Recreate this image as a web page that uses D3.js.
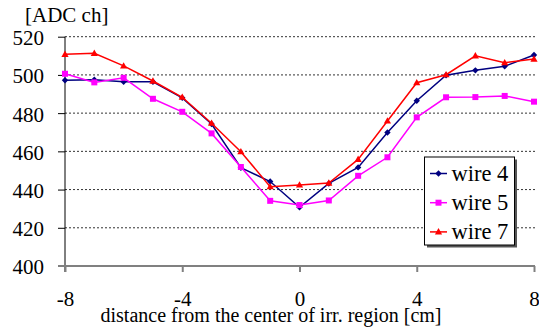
<!DOCTYPE html>
<html>
<head>
<meta charset="utf-8">
<script src="https://cdn.jsdelivr.net/npm/d3@7"></script>
<style>
  body { margin: 0; background: #fff; }
</style>
</head>
<body>
<svg id="svg" width="539" height="331"></svg>
<script>
// position along the irradiated region, cm
var positions = [-8, -7, -6, -5, -4, -3, -2, -1, 0, 1, 2, 3, 4, 5, 6, 7, 8];
// ADC values per wire
var wire4 = [497.2, 497.5, 496.4, 496.4, 488.0, 474.3, 451.4, 444.2, 430.7, 443.2, 451.6, 469.9, 486.5, 499.8, 502.4, 504.5, 510.4];
var wire5 = [500.6, 496.1, 498.5, 487.5, 480.7, 469.4, 451.8, 434.1, 431.9, 434.3, 447.2, 456.9, 477.8, 488.3, 488.4, 489.0, 486.0];
var wire7 = [510.8, 511.3, 504.7, 496.8, 488.3, 474.7, 459.8, 441.5, 442.4, 443.4, 455.8, 475.9, 495.9, 500.1, 510.0, 506.4, 508.3];
var yTicks = [400, 420, 440, 460, 480, 500, 520];
var xTicks = [-8, -4, 0, 4, 8];

var series = [
  {name: "wire 4", values: wire4, color: "#000080", marker: "diamond"},
  {name: "wire 5", values: wire5, color: "#ff00ff", marker: "square"},
  {name: "wire 7", values: wire7, color: "#ff0000", marker: "triangle"}
];

var serif = "'Liberation Serif', 'Times New Roman', serif";
var svg = d3.select("#svg");
var x = d3.scaleLinear().domain([-8, 8]).range([65, 534]);
var y = d3.scaleLinear().domain([400, 520]).range([266, 36.7]);

// grid lines
svg.append("g").selectAll("line").data(yTicks.filter(function(d) { return d > 400; })).enter()
  .append("line")
  .attr("x1", 65).attr("x2", 537)
  .attr("y1", function(d) { return y(d); }).attr("y2", function(d) { return y(d); })
  .attr("stroke", "#333").attr("stroke-width", 1).attr("stroke-dasharray", "2,2");

// y axis
var yAxis = svg.append("g").attr("transform", "translate(65,0)")
  .call(d3.axisLeft(y).tickValues(yTicks).tickSize(7).tickPadding(14).tickFormat(function(d) { return String(d); }));
yAxis.attr("font-family", null).attr("font-size", null);
yAxis.select(".domain").attr("stroke", "#000").attr("d", "M0," + y(520) + "V" + (y(400) + 6));
yAxis.selectAll(".tick line").attr("stroke", "#000");
yAxis.selectAll("text").style("font-family", serif).style("font-size", "21px").attr("dy", "0.38em");

// x axis
var xAxis = svg.append("g").attr("transform", "translate(0," + y(400) + ")")
  .call(d3.axisBottom(x).tickValues(xTicks).tickSize(6).tickPadding(19).tickFormat(function(d) { return String(d); }));
xAxis.attr("font-family", null).attr("font-size", null);
xAxis.select(".domain").attr("stroke", "#808080").attr("stroke-width", 2).attr("d", "M58,0H535");
xAxis.selectAll(".tick line").attr("stroke", "#808080").attr("stroke-width", 2);
xAxis.selectAll("text").style("font-family", serif).style("font-size", "21px");

// axis titles
svg.append("text").attr("x", 25).attr("y", 22).style("font-family", serif).style("font-size", "21px").text("[ADC ch]");
svg.append("text").attr("x", 271).attr("y", 322).style("font-family", serif).style("font-size", "20px")
  .attr("text-anchor", "middle").text("distance from the center of irr. region [cm]");

function markerPath(type) {
  if (type === "diamond") return "M0,-3.2L3.2,0L0,3.2L-3.2,0Z";
  if (type === "square") return "M-3,-3H3V3H-3Z";
  return "M0,-3.8L3.6,2.6H-3.6Z";
}

var line = d3.line()
  .x(function(d, i) { return x(positions[i]); })
  .y(function(d) { return y(d); });

series.forEach(function(s) {
  var g = svg.append("g");
  g.append("path").attr("d", line(s.values)).attr("fill", "none")
    .attr("stroke", s.color).attr("stroke-width", 1.5);
  g.selectAll("path.m").data(s.values).enter().append("path").attr("class", "m")
    .attr("transform", function(d, i) { return "translate(" + x(positions[i]) + "," + y(d) + ")"; })
    .attr("d", markerPath(s.marker)).attr("fill", s.color);
});

// legend
var lg = svg.append("g").attr("transform", "translate(424.5,157)");
lg.append("rect").attr("x", 2.5).attr("y", 2.5).attr("width", 90).attr("height", 88).attr("fill", "#555");
lg.append("rect").attr("x", 0).attr("y", 0).attr("width", 90).attr("height", 88)
  .attr("fill", "#fff").attr("stroke", "#000").attr("stroke-width", 1);
series.forEach(function(s, i) {
  var cy = 16.5 + i * 29.2;
  lg.append("line").attr("x1", 5.5).attr("x2", 22.5).attr("y1", cy).attr("y2", cy)
    .attr("stroke", s.color).attr("stroke-width", 1.5);
  lg.append("path").attr("transform", "translate(14," + cy + ")").attr("d", markerPath(s.marker)).attr("fill", s.color);
  lg.append("text").attr("x", 27).attr("y", cy + 7.5).style("font-family", serif).style("font-size", "22.5px").text(s.name);
});
</script>
</body>
</html>
